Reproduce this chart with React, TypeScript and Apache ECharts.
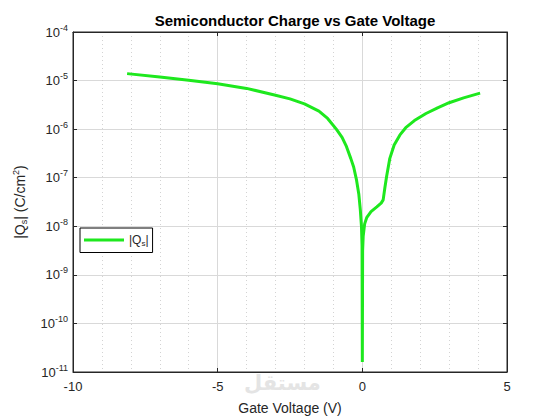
import React, { useEffect, useRef } from "react";
import * as echarts from "echarts";

const gateVoltage: number[] = [
  -8.13, -7, -6, -5, -4, -3, -2.5, -2, -1.5, -1.2, -0.9, -0.7, -0.55, -0.4, -0.3,
  -0.2, -0.12, -0.07, -0.03, -0.01, 0, 0.01, 0.03, 0.08, 0.15, 0.3, 0.5, 0.65,
  0.72, 0.78, 0.84, 0.95, 1.1, 1.3, 1.5, 1.8, 2.2, 2.6, 3.0, 3.5, 4.07,
];
const chargeQs: number[] = [
  1.39e-5, 1.18e-5, 1.01e-5, 8.6e-6, 6.9e-6, 5.0e-6, 4.2e-6, 3.3e-6, 2.35e-6,
  1.66e-6, 1.0e-6, 6.8e-7, 4.4e-7, 2.5e-7, 1.66e-7, 8.9e-8, 4.5e-8, 2.2e-8,
  1.0e-8, 4.0e-9, 1.6e-11, 3.2e-9, 6.3e-9, 1.12e-8, 1.5e-8, 2.0e-8, 2.5e-8,
  3.0e-8, 3.5e-8, 6.3e-8, 1.07e-7, 2.5e-7, 4.7e-7, 7.6e-7, 1.07e-6, 1.5e-6,
  2.1e-6, 2.75e-6, 3.5e-6, 4.4e-6, 5.5e-6,
];
const xTicks = { min: -10, max: 5, interval: 5 };
const yDecades = { minExp: -11, maxExp: -4 };

const seriesName = "|Qs|";
const lineColor = "#1ee81e";
const textColor = "#262626";
const font = "Liberation Sans, Arial, Helvetica, sans-serif";

export default function App() {
  const ref = useRef<HTMLDivElement>(null);
  useEffect(() => {
    if (!ref.current) return;
    const chart = echarts.init(ref.current, null, { renderer: "svg" });

    const minorValues: number[] = [];
    for (let e = yDecades.minExp; e < yDecades.maxExp; e++) {
      for (let k = 2; k <= 9; k++) minorValues.push(k * Math.pow(10, e));
    }

    const yMin = Math.pow(10, yDecades.minExp);
    const yMax = Math.pow(10, yDecades.maxExp);

    const supRich = {
      b: { fontSize: 13, color: textColor, fontFamily: font },
      s: { fontSize: 9, color: textColor, fontFamily: font, padding: [0, 0, 9, 0] },
    };

    chart.setOption({
      animation: false,
      backgroundColor: "#ffffff",
      textStyle: { fontFamily: font },
      title: {
        text: "Semiconductor Charge vs Gate Voltage",
        left: 290,
        textAlign: "center",
        top: 8,
        textStyle: { fontSize: 15, fontWeight: "bold", color: "#000", fontFamily: font },
      },
      grid: {
        left: 73,
        right: 53,
        top: 32,
        bottom: 47,
        show: true,
        borderColor: textColor,
        borderWidth: 1,
        backgroundColor: "transparent",
      },
      legend: {
        left: 80,
        top: 228,
        orient: "vertical",
        backgroundColor: "#ffffff",
        borderColor: "#000000",
        borderWidth: 1,
        borderRadius: 0,
        padding: [6, 4, 5, 4],
        itemWidth: 40,
        itemHeight: 3,
        itemGap: 2,
        data: [{ name: seriesName, icon: "rect" }],
        formatter: () => "{n||Q}{s|s}{n||}",
        textStyle: {
          color: textColor,
          rich: {
            n: { fontSize: 12, color: textColor, fontFamily: font },
            s: { fontSize: 8, color: textColor, fontFamily: font, padding: [7, 0, 0, 0] },
          },
        },
      },
      xAxis: [
        {
          type: "value",
          min: xTicks.min,
          max: xTicks.max,
          interval: xTicks.interval,
          name: "Gate Voltage (V)",
          nameLocation: "middle",
          nameGap: 29,
          nameTextStyle: { fontSize: 14, color: textColor, fontFamily: font },
          axisLine: { show: true, onZero: false, lineStyle: { color: textColor } },
          axisTick: { show: true, inside: true, length: 4, lineStyle: { color: textColor } },
          axisLabel: { fontSize: 13, color: textColor, margin: 8, fontFamily: font },
          splitLine: { show: true, lineStyle: { color: "#d9d9d9", width: 1 } },
          minorTick: { show: false, splitNumber: 5 },
          minorSplitLine: { show: true, lineStyle: { color: "#c8c8c8", width: 0.8, type: [1, 3] } },
        },
        {
          type: "value",
          position: "top",
          min: xTicks.min,
          max: xTicks.max,
          interval: xTicks.interval,
          axisLine: { show: true, onZero: false, lineStyle: { color: textColor } },
          axisTick: { show: true, inside: true, length: 4, lineStyle: { color: textColor } },
          axisLabel: { show: false },
          splitLine: { show: false },
        },
      ],
      yAxis: [
        {
          type: "log",
          logBase: 10,
          min: yMin,
          max: yMax,
          name: "{n||Q}{s|s}{n|| (C/cm}{p|2}{n|)}",
          nameLocation: "middle",
          nameGap: 44,
          nameRotate: 90,
          nameTextStyle: {
            color: textColor,
            rich: {
              n: { fontSize: 14, color: textColor, fontFamily: font },
              s: { fontSize: 9, color: textColor, fontFamily: font, padding: [8, 0, 0, 0] },
              p: { fontSize: 9, color: textColor, fontFamily: font, padding: [0, 0, 9, 0] },
            },
          },
          axisLine: { show: true, onZero: false, lineStyle: { color: textColor } },
          axisTick: { show: true, inside: true, length: 4, lineStyle: { color: textColor } },
          axisLabel: {
            margin: 5,
            formatter: (v: number) => `{b|10}{s|${Math.round(Math.log10(v))}}`,
            rich: supRich,
          },
          splitLine: { show: true, lineStyle: { color: "#d9d9d9", width: 1 } },
        },
        {
          type: "log",
          logBase: 10,
          min: yMin,
          max: yMax,
          position: "right",
          axisLine: { show: true, onZero: false, lineStyle: { color: textColor } },
          axisTick: { show: true, inside: true, length: 4, lineStyle: { color: textColor } },
          axisLabel: { show: false },
          splitLine: { show: false },
        },
      ],
      series: [
        {
          name: "minorGrid",
          type: "line",
          data: [],
          z: 1,
          silent: true,
          markLine: {
            silent: true,
            symbol: "none",
            label: { show: false },
            lineStyle: { color: "#bcbcbc", width: 0.8, type: [1, 3] },
            data: minorValues.map((v) => ({ yAxis: v })),
          },
        },
        {
          name: seriesName,
          type: "line",
          z: 5,
          data: gateVoltage.map((x, i) => [x, chargeQs[i]]),
          showSymbol: false,
          symbol: "none",
          smooth: false,
          lineStyle: { color: lineColor, width: 3 },
          itemStyle: { color: lineColor },
        },
      ],
      graphic: [
        {
          type: "text",
          left: 244,
          top: 372,
          silent: true,
          z: 0,
          style: {
            text: "مستقل",
            fontSize: 21,
            fontWeight: "bold",
            fill: "#e4e4e4",
            fontFamily: "DejaVu Sans, Noto Sans, sans-serif",
          },
        },
      ],
    });
    return () => chart.dispose();
  }, []);
  return (
    <div
      ref={ref}
      style={{ position: "absolute", left: 0, top: 0, width: 560, height: 420 }}
    />
  );
}
